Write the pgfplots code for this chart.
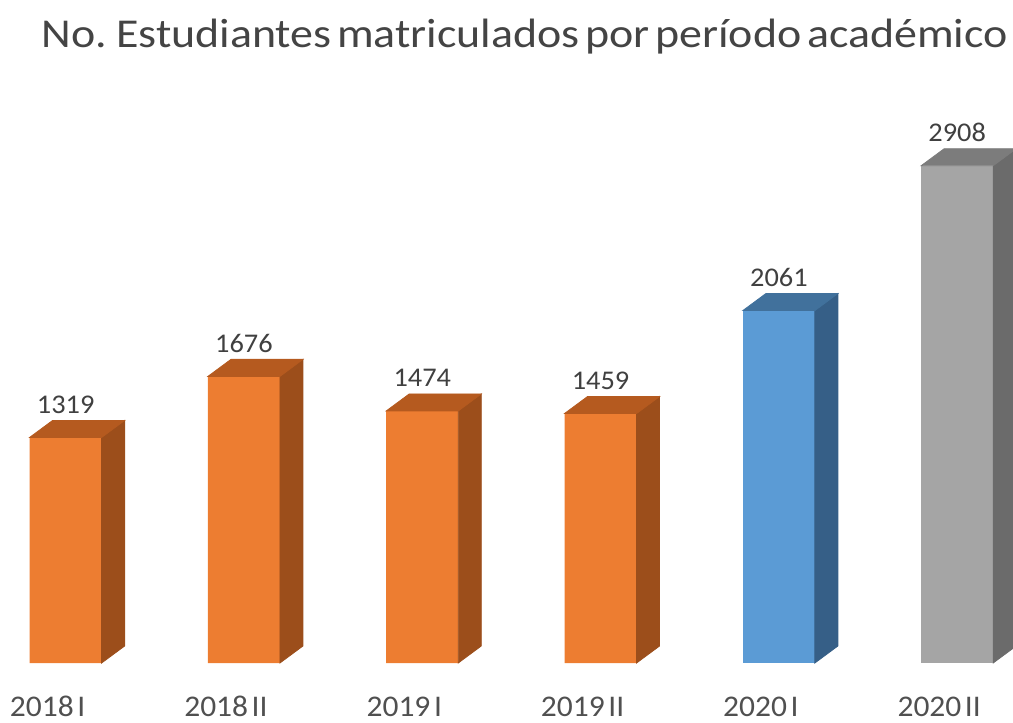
\documentclass[border=0pt]{standalone}
\usepackage{pgfplots}
\pgfplotsset{compat=1.18}
\usepackage{pgfplotstable}
\usepackage{fontspec}
\setmainfont{Carlito}
\newfontfamily\titlefont[FakeStretch=1.12, WordSpace=0.55]{Carlito}
\newfontfamily\labfont[FakeStretch=1.05, WordSpace=0.5]{Carlito}
\definecolor{orF}{HTML}{ED7D31}
\definecolor{orS}{HTML}{9C4E1B}
\definecolor{orT}{HTML}{B55A1F}
\definecolor{blF}{HTML}{5B9BD5}
\definecolor{blS}{HTML}{365F87}
\definecolor{blT}{HTML}{41719C}
\definecolor{grF}{HTML}{A5A5A5}
\definecolor{grS}{HTML}{6B6B6B}
\definecolor{grT}{HTML}{7C7C7C}
\definecolor{titlec}{HTML}{444444}
\definecolor{lab}{HTML}{404040}
\definecolor{tick}{HTML}{505050}
\pgfdeclareplotmark{empty}{}
\newcommand\yu{0.0855}
\pgfplotstableread{
x v
0 1319
1 1676
2 1474
3 1459
4 2061
5 2908
}\data
\pgfplotsset{
  bar3d/.style 2 args={only marks, scatter, mark=empty,
    visualization depends on={rawy \as \val},
    scatter/@pre marker code/.code={%
      \pgfmathsetmacro\barH{\val*\yu}%
      \pgfmathsetmacro\barHb{8.5-\barH}%
      \fill[#1] (18pt,0pt) -- (29.5pt,8.5pt) -- (29.5pt,\barHb pt) -- (18pt,-\barH pt) -- cycle;
      \fill[#2] (-18pt,0pt) -- (18pt,0pt) -- (29.5pt,8.5pt) -- (-6.5pt,8.5pt) -- cycle;
    },
    scatter/@post marker code/.code={}},
  front/.style={ybar, bar width=36pt, bar shift=0pt, draw=none, fill=#1,
    nodes near coords, point meta=explicit symbolic,
    nodes near coords style={font=\labfont\fontsize{13.5}{16}\selectfont, text=lab, anchor=base, yshift=12pt}}
}
\begin{document}
\begin{tikzpicture}
\begin{axis}[
  x=89.15pt, y=0.0855pt,
  xmin=-0.368, xmax=5.313, ymin=-345, ymax=3877,
  axis x line=bottom, axis y line=left,
  axis line style={draw=none}, tick style={draw=none},
  ytick=\empty,
  xtick={0,1,2,3,4,5},
  xticklabels={2018 I, 2018 II, 2019 I, 2019 II, 2020 I, 2020 II},
  xticklabel style={font=\labfont\fontsize{15}{17}\selectfont, text=tick, anchor=base, inner sep=0pt, yshift=5pt, xshift=-9pt},
  title={No. Estudiantes matriculados por período académico},
  every axis title shift=0pt,
  title style={at={(axis description cs:0.518,1)}, anchor=base, yshift=-24pt, font=\titlefont\fontsize{20.5}{24}\selectfont, text=titlec},
  clip=true,
]
\addplot[front=orF, restrict x to domain=0:3] table[x=x, y=v, meta=v] {\data};
\addplot[front=blF, restrict x to domain=4:4] table[x=x, y=v, meta=v] {\data};
\addplot[front=grF, restrict x to domain=5:5] table[x=x, y=v, meta=v] {\data};
\addplot[bar3d={orS}{orT}, restrict x to domain=0:3] table[x=x, y=v] {\data};
\addplot[bar3d={blS}{blT}, restrict x to domain=4:4] table[x=x, y=v] {\data};
\addplot[bar3d={grS}{grT}, restrict x to domain=5:5] table[x=x, y=v] {\data};
\end{axis}
\pgfresetboundingbox
\path (current axis.south west) rectangle (current axis.north east);
\end{tikzpicture}
\end{document}
